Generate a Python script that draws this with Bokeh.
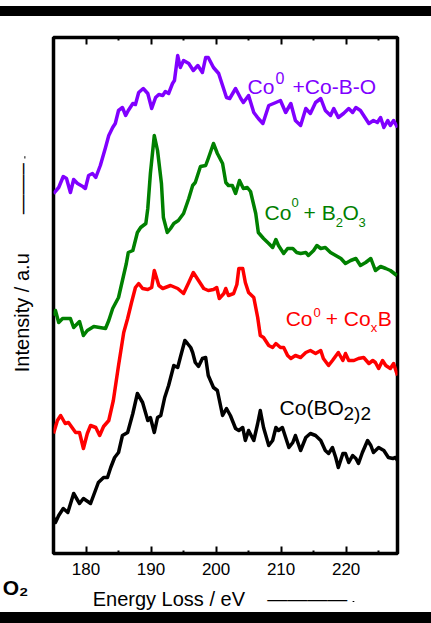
import math
from bokeh.plotting import figure
from bokeh.models import Label, Arrow, NormalHead, FixedTicker, LinearAxis, Range1d, Div
from bokeh.layouts import column
from bokeh.embed import file_html
from bokeh.resources import INLINE

# ---------------- data (energy loss in eV, intensity in arbitrary units incl. stacking offset) -------------
energy_cobo = [175.0,175.8,176.5,177.0,177.6,178.1,178.7,179.5,179.9,180.4,181.0,181.5,182.2,183.0,183.5,184.1,184.5,185.0,185.6,186.1,
               186.5,187.2,187.6,188.1,188.8,189.5,190.1,190.7,191.2,191.8,192.2,192.7,193.3,193.6,194.1,194.5,195.0,195.8,196.5,197.2,
               197.9,198.4,198.8,199.6,200.4,201.0,201.6,202.1,203.0,203.8,204.2,205.0,205.8,206.5,207.2,208.1,209.2,209.9,210.7,211.5,
               212.2,213.0,213.8,214.5,215.3,216.1,216.8,217.6,218.1,218.8,219.6,220.4,221.0,221.5,222.2,223.0,223.5,224.2,224.8,225.3,
               225.8,226.4,226.8,227.3,227.9]
intensity_cobo = [360,366,377,375,361,374,370,367,365,378,380,376,388,406,418,426,430,443,446,438,
                  443,450,449,461,465,460,445,456,459,458,462,460,470,473,498,486,493,490,483,488,
                  481,496,496,486,480,468,456,455,465,455,451,458,441,435,430,448,451,453,441,450,
                  433,428,445,440,451,455,443,438,445,436,440,445,441,446,443,435,430,433,431,436,
                  426,433,428,433,426]

energy_b2o3 = [175.0,175.3,175.8,176.4,177.6,178.1,179.0,179.6,180.2,181.2,183.0,183.5,184.1,185.0,185.6,186.2,186.5,187.2,187.9,188.4,
               189.2,189.5,189.9,190.5,191.0,191.6,191.9,192.5,193.0,193.5,194.2,195.0,195.8,196.4,196.8,197.6,198.4,198.8,199.6,200.2,
               201.0,201.5,201.9,202.5,203.0,203.6,204.2,204.8,205.3,206.1,206.5,207.3,208.1,208.7,209.2,209.6,210.4,211.0,211.8,212.4,
               213.0,213.8,214.2,215.0,215.5,216.1,216.8,217.6,218.4,219.2,219.9,220.7,221.5,222.2,223.0,223.8,224.5,225.3,226.1,226.8,
               227.8]
intensity_b2o3 = [238,243,231,235,235,226,232,218,223,227,225,233,245,256,273,290,301,303,321,326,
                  330,345,380,418,403,370,336,321,325,330,333,340,355,368,371,387,388,395,410,400,
                  390,371,368,368,360,373,365,366,362,340,321,315,310,306,314,308,300,305,305,301,
                  300,301,298,303,308,305,306,301,298,295,290,293,295,288,291,295,283,287,285,283,
                  278]

energy_coxb = [175.0,175.6,176.1,176.8,177.3,178.4,179.0,179.6,180.2,180.7,181.5,182.1,182.7,183.5,184.2,185.0,185.8,186.4,187.0,187.6,
               188.1,188.7,189.5,190.1,190.5,191.2,191.8,193.0,194.1,195.0,195.8,196.5,197.3,198.1,198.8,199.6,200.1,200.5,201.2,201.5,
               201.9,202.7,203.2,203.5,204.1,204.5,205.0,205.8,206.4,206.8,207.3,208.1,208.7,209.2,209.9,210.4,211.0,211.5,212.2,213.0,
               213.8,214.5,215.3,216.1,216.5,217.3,217.9,218.8,219.5,219.9,220.4,221.2,221.9,222.7,223.5,224.1,224.5,225.0,225.6,226.1,
               226.8,227.3,227.9]
intensity_coxb = [120,133,138,130,131,121,121,105,120,128,126,118,127,133,153,188,221,235,251,266,
                  270,265,264,266,283,268,265,268,265,260,271,281,273,265,263,264,266,255,260,265,
                  258,260,269,285,285,271,261,256,236,218,216,208,206,210,206,206,198,195,198,196,
                  201,203,200,203,195,188,193,201,193,200,193,193,195,196,190,193,191,185,193,188,
                  185,190,178]

energy_cobo2 = [175.0,175.3,175.8,176.5,177.2,178.1,179.0,179.6,180.7,181.9,182.7,183.3,183.8,184.4,185.0,185.6,186.4,187.2,187.9,188.7,
                189.5,189.9,190.5,191.0,191.5,192.1,192.7,193.5,194.1,194.5,195.2,195.6,196.1,196.4,196.8,197.3,197.9,198.4,198.8,199.6,
                200.2,201.0,201.6,202.2,203.0,203.5,204.1,204.5,205.0,205.8,206.4,206.8,207.3,208.1,208.7,209.2,209.6,210.2,210.7,211.2,
                211.8,212.2,213.0,213.8,214.5,215.3,216.1,216.8,217.3,217.9,218.4,218.8,219.5,219.9,220.4,221.0,221.5,221.9,222.5,223.3,
                223.8,224.2,225.0,225.8,226.5,227.2,227.6,227.9]
intensity_cobo2 = [36,31,38,45,41,60,50,55,50,71,76,76,86,96,101,118,121,140,160,151,
                   133,136,121,136,138,156,168,188,186,196,213,210,206,201,191,187,195,196,178,166,
                   163,138,145,138,125,123,126,113,123,113,130,143,126,108,113,126,123,126,116,106,
                   111,118,103,116,120,118,113,103,100,106,96,86,100,100,91,98,95,90,101,113,
                   108,101,106,103,96,95,96,93]

x_major_ticks = [180, 190, 200, 210, 220]
x_minor_ticks = [175, 185, 195, 205, 215, 225]

PURPLE = "#8000ff"
GREEN = "#008000"
RED = "#ff0000"
BLACK = "#000000"
FONT = "Liberation Sans"
NBSP = "\u00a0"
EM = "\u2014"
EN = "\u2013"

# ---------------- figure ----------------
p = figure(width=431, height=596, output_backend="svg", toolbar_location=None,
           x_range=Range1d(175, 227.9), y_range=Range1d(0, 516),
           min_border_left=53, min_border_right=34, min_border_top=21, min_border_bottom=59)
p.xgrid.visible = False
p.ygrid.visible = False
p.background_fill_color = "white"
p.border_fill_color = "white"
p.outline_line_color = "black"
p.outline_line_width = 3.5

xt = FixedTicker(ticks=x_major_ticks, minor_ticks=x_minor_ticks)
for ax in p.xaxis:
    ax.ticker = xt
    ax.axis_line_color = None
    ax.major_tick_in = 7
    ax.major_tick_out = 0
    ax.minor_tick_in = 3
    ax.minor_tick_out = 0
    ax.major_tick_line_width = 2
    ax.minor_tick_line_width = 2
    ax.major_tick_line_color = "black"
    ax.minor_tick_line_color = "black"
    ax.major_label_text_font = FONT
    ax.major_label_text_font_size = "17px"
    ax.major_label_text_color = "black"
    ax.major_label_standoff = 9

# second, mark-less bottom axis: carries the axis title (with arrow) and the
# cut-off bold "O2" of the neighbouring panel at the far left
title_axis = LinearAxis(ticker=FixedTicker(ticks=[175]),
                        major_label_overrides={175: "O\u2082" + NBSP * 13},
                        axis_line_color=None, major_tick_line_color=None, minor_tick_line_color=None,
                        major_tick_in=0, major_tick_out=0, minor_tick_in=0, minor_tick_out=0,
                        major_label_text_font=FONT, major_label_text_font_size="21px",
                        major_label_text_font_style="bold", major_label_text_color="black",
                        major_label_standoff=-2,
                        axis_label="Energy Loss / eV" + NBSP * 4 + EM * 4 + NBSP * 2,
                        axis_label_text_font=FONT, axis_label_text_font_size="20px",
                        axis_label_text_font_style="normal", axis_label_text_color="black",
                        axis_label_standoff=-14)
p.add_layout(title_axis, "below")

top_axis = LinearAxis(ticker=xt, axis_line_color=None, major_tick_in=7, major_tick_out=0,
                      minor_tick_in=3, minor_tick_out=0, major_tick_line_width=2, minor_tick_line_width=2,
                      major_label_text_font_size="0px", major_label_text_color=None)
p.add_layout(top_axis, "above")

for ax in p.yaxis:
    ax.ticker = FixedTicker(ticks=[])
    ax.axis_line_color = None
    ax.major_label_text_color = None
    ax.major_label_text_font_size = "0px"
    ax.major_tick_in = 0
    ax.major_tick_out = 0
    ax.axis_label = NBSP * 10 + "Intensity / a.u" + NBSP * 7 + EM * 2 + EN
    ax.axis_label_text_font = FONT
    ax.axis_label_text_font_size = "20px"
    ax.axis_label_text_font_style = "normal"
    ax.axis_label_text_color = "black"
    ax.axis_label_standoff = 21
right_axis = LinearAxis(ticker=FixedTicker(ticks=[]), axis_line_color=None,
                        major_label_text_color=None, major_label_text_font_size="0px")
p.add_layout(right_axis, "right")

# ---------------- spectra ----------------
for xs, ys, c in [(energy_cobo, intensity_cobo, PURPLE),
                  (energy_b2o3, intensity_b2o3, GREEN),
                  (energy_coxb, intensity_coxb, RED),
                  (energy_cobo2, intensity_cobo2, BLACK)]:
    p.line(xs, ys, line_color=c, line_width=3.5, line_join="round")


def lab(x, y, text, size, color):
    p.add_layout(Label(x=x, y=y, text=text, text_font=FONT, text_font_size=f"{size}px",
                       text_color=color, text_baseline="alphabetic", text_align="left"))


# curve labels
lab(204.85, 467, "Co", 21, PURPLE)
lab(209.15, 476, "0", 16, PURPLE)
lab(211.77, 467, "+Co-B-O", 21, PURPLE)

lab(207.46, 341, "Co", 21, GREEN)
lab(211.6, 351, "0", 13, GREEN)
lab(213.46, 341, "+ B", 21, GREEN)
lab(218.4, 331, "2", 13, GREEN)
lab(219.46, 341, "O", 21, GREEN)
lab(221.9, 331, "3", 13, GREEN)

lab(210.7, 235, "Co", 21, RED)
lab(215.0, 241, "0", 13, RED)
lab(216.85, 235, "+ Co", 21, RED)
lab(223.77, 226, "x", 13, RED)
lab(224.85, 235, "B", 21, RED)

lab(209.77, 146, "Co(BO", 21, BLACK)
lab(219.6, 140, "2)2", 19, BLACK)

# arrow heads for the axis-title arrows
p.add_layout(Arrow(end=NormalHead(size=7, fill_color="black", line_color="black", line_width=1),
                   x_start=221.0, y_start=-48, x_end=221.26, y_end=-48, line_width=1))
p.add_layout(Arrow(end=NormalHead(size=7, fill_color="black", line_color="black", line_width=1),
                   x_start=170.6, y_start=395, x_end=170.6, y_end=397.3, line_width=1))

top_gap = Div(text="", width=431, height=6, margin=(0, 0, 0, 0), styles={"background-color": "white"})
top_bar = Div(text="", width=431, height=10, margin=(0, 0, 0, 0), styles={"background-color": "black"})
bottom_bar = Div(text="", width=431, height=11, margin=(0, 0, 0, 0), styles={"background-color": "black"})
layout = column(top_gap, top_bar, p, bottom_bar, spacing=0)

open("out.html", "w").write(file_html(layout, INLINE))
